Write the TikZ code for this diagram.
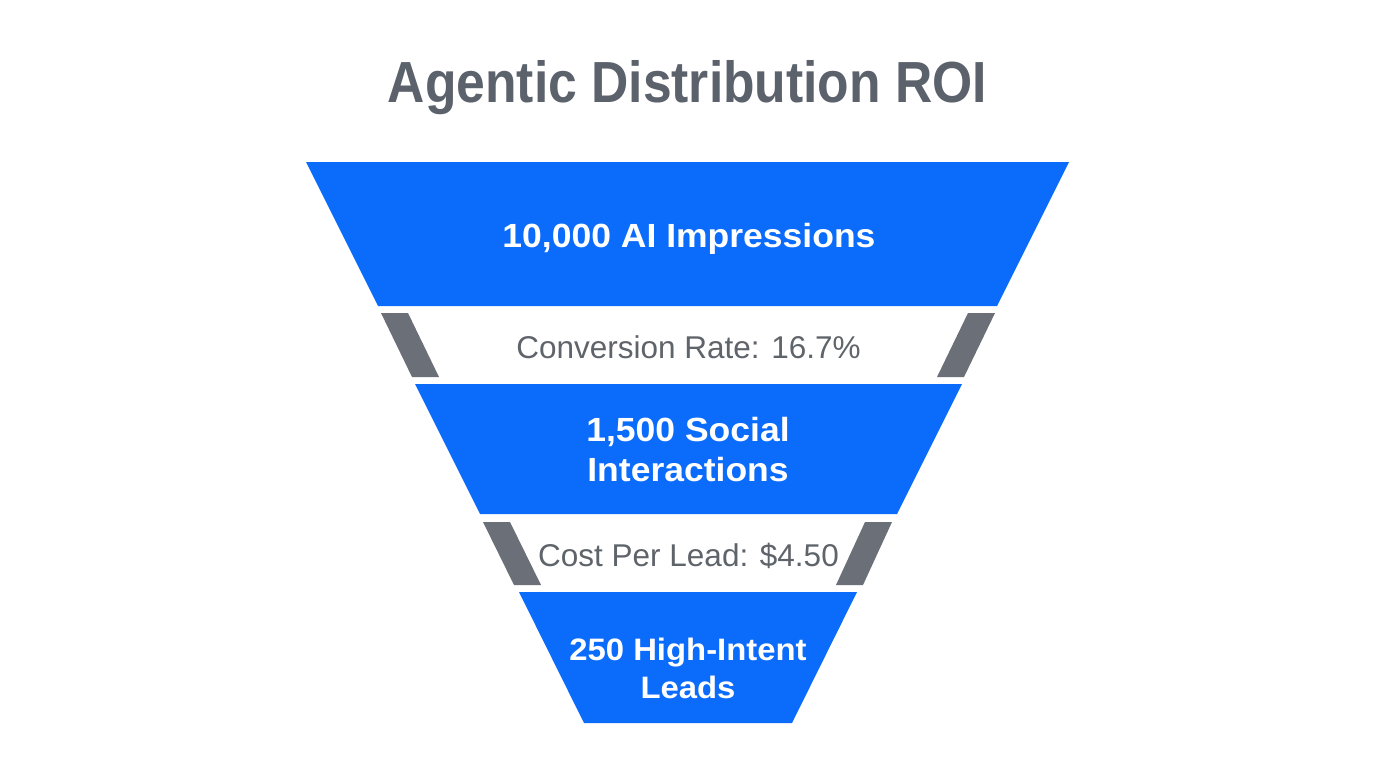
\documentclass[tikz,border=0pt]{standalone}
\usepackage{fontspec}
\setmainfont{Liberation Sans}
\newfontfamily\titlefont[FakeStretch=0.89]{Liberation Sans}
\newfontfamily\boxfont[FakeStretch=1.06]{Liberation Sans}
\newfontfamily\notefont{Liberation Sans}
\definecolor{funnelblue}{RGB}{11,108,252}
\definecolor{bargray}{RGB}{106,111,120}
\definecolor{notegray}{RGB}{95,100,106}
\definecolor{titlegray}{RGB}{92,98,108}
\tikzset{
  stage/.style={fill=funnelblue, draw=none},
  bar/.style={fill=bargray, draw=none},
  stagetext/.style={text=white, font=\boxfont\bfseries\fontsize{33.5}{39.5}\selectfont, align=center, anchor=base, inner sep=0pt},
  notetext/.style={text=notegray, font=\notefont\fontsize{31.5}{36}\selectfont, anchor=base, inner sep=0pt},
}
\begin{document}
\begin{tikzpicture}[x=1pt,y=-1pt]
\useasboundingbox[fill=white] (0,0) rectangle (1376,768);
% title
\node[text=titlegray, font=\titlefont\bfseries\fontsize{58}{60}\selectfont, anchor=base, inner sep=0pt] (title) at (687.5,102) {Agentic Distribution ROI};
% stage 1
\fill[stage] (306,162) -- (1069,162) -- (997,306) -- (378,306) -- cycle;
\node[stagetext] (s1) at (689,247) {10,000 AI Impressions};
% connector 1
\fill[bar] (381,313) -- (408,313) -- (439,377) -- (412,377) -- cycle;
\fill[bar] (968,313) -- (995,313) -- (964,377) -- (937,377) -- cycle;
\node[notetext] (c1) at (688.5,358) {Conversion Rate: 16.7\%};
% stage 2
\fill[stage] (415,384) -- (962,384) -- (897,514) -- (480,514) -- cycle;
\node[stagetext] (s2) at (688,481) {1,500 Social\\Interactions};
% connector 2
\fill[bar] (483,522) -- (510,522) -- (541,585) -- (514,585) -- cycle;
\fill[bar] (865,522) -- (892,522) -- (863,585) -- (836,585) -- cycle;
\node[notetext] (c2) at (688.5,566) {Cost Per Lead: \$4.50};
% stage 3
\fill[stage] (519,592) -- (857,592) -- (792,723) -- (584,723) -- cycle;
\node[stagetext, font=\boxfont\bfseries\fontsize{31}{38}\selectfont] (s3) at (688,698) {250 High-Intent\\Leads};
\end{tikzpicture}
\end{document}
